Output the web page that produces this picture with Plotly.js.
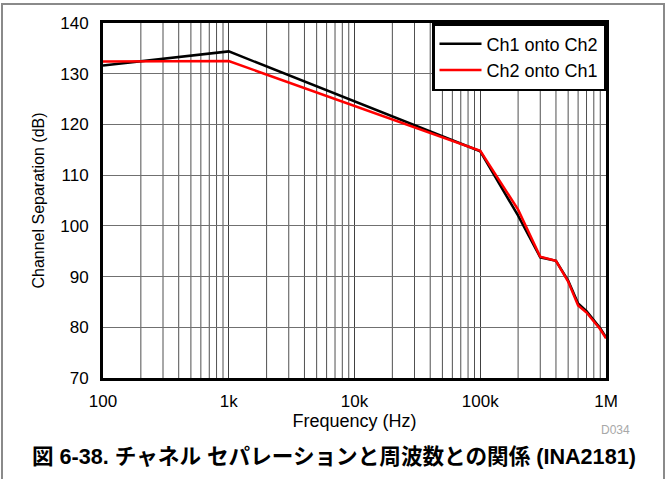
<!DOCTYPE html>
<html>
<head>
<meta charset="utf-8">
<script src="https://cdn.plot.ly/plotly-3.0.1.min.js"></script>
<style>
  html, body { margin: 0; padding: 0; background: #fff; }
  #wrap { position: relative; width: 666px; height: 479px; }
  #chart { position: absolute; left: 0; top: 0; width: 666px; height: 479px; }
  #frame { position: absolute; left: 1px; top: 3px; width: 664px; height: 480px;
           border: 2px solid #8a8a8a; pointer-events: none; box-sizing: border-box; }
</style>
</head>
<body>
<div id="wrap">
  <div id="chart"></div>
  <div id="frame"></div>
</div>
<script>
// Frequencies (Hz)
const freqCh1 = [100, 1000, 100000, 200000, 300000, 400000, 500000, 600000, 700000, 900000, 1000000];
const freqCh2 = [100, 1000, 100000, 200000, 300000, 400000, 500000, 600000, 700000, 900000, 1000000];
// Channel separation (dB)
const sepCh1 = [131.6, 134.4, 114.7, 102.0, 93.8, 93.1, 89.2, 84.7, 83.2, 79.8, 78.0];
const sepCh2 = [132.4, 132.5, 114.8, 103.2, 93.9, 93.1, 89.0, 84.3, 82.9, 79.6, 77.8];
const seriesNames = ["Ch1 onto Ch2", "Ch2 onto Ch1"];
// Tick labels
const xTickVals = [100, 1000, 10000, 100000, 1000000];
const xTickText = ["100", "1k", "10k", "100k", "1M"];
const yTickVals = [70, 80, 90, 100, 110, 120, 130, 140];
// Minor grid frequencies (2..9 per decade)
const minorGrid = [];
[100, 1000, 10000, 100000].forEach(d => { for (let m = 2; m <= 9; m++) minorGrid.push(d * m); });

const FONT = "Liberation Sans, Arial, Helvetica, sans-serif";

const traces = [
  { x: freqCh1, y: sepCh1, name: seriesNames[0], mode: "lines", type: "scatter",
    line: { color: "#000000", width: 2.5 } },
  { x: freqCh2, y: sepCh2, name: seriesNames[1], mode: "lines", type: "scatter",
    line: { color: "#ff0000", width: 2.5 } }
];

const L = 103, R = 606, T = 23, B = 378;
const pw = R - L, ph = B - T;
const px = v => (v - L) / pw;
const py = v => (B - v) / ph;

const shapes = minorGrid.map(f => ({
  type: "line", xref: "x", yref: "paper", x0: f, x1: f, y0: 0, y1: 1,
  line: { color: "#505050", width: 1 }, layer: "below"
}));

const layout = {
  width: 666, height: 479,
  margin: { l: L, r: 666 - R, t: T, b: 479 - B },
  paper_bgcolor: "#ffffff", plot_bgcolor: "#ffffff",
  font: { family: FONT, color: "#000", size: 17 },
  showlegend: true,
  legend: {
    x: 1, xanchor: "right", y: 1, yanchor: "top",
    bgcolor: "#ffffff", bordercolor: "#000000", borderwidth: 2.5,
    font: { family: FONT, size: 18, color: "#000" },
    itemwidth: 42,
    tracegroupgap: 0
  },
  xaxis: {
    type: "log", range: [2, 6],
    tickvals: xTickVals, ticktext: xTickText,
    showgrid: true, gridcolor: "#404040", gridwidth: 1,
    showline: true, linecolor: "#000", linewidth: 3, mirror: true,
    ticks: "", ticklabelstandoff: 6,
    tickfont: { family: FONT, size: 17 },
    zeroline: false,
    title: { text: "Frequency (Hz)", font: { family: FONT, size: 18 }, standoff: 0 }
  },
  yaxis: {
    range: [70, 140], tickvals: yTickVals,
    showgrid: true, gridcolor: "#707070", gridwidth: 1,
    showline: true, linecolor: "#000", linewidth: 3, mirror: true,
    ticks: "", ticklabelstandoff: 8,
    tickfont: { family: FONT, size: 17 },
    zeroline: false,
    title: { text: "Channel Separation (dB)", font: { family: FONT, size: 16 }, standoff: 12 }
  },
  shapes: shapes,
  annotations: [
    { xref: "paper", yref: "paper", x: px(632), y: py(430), xanchor: "right", yanchor: "middle",
      text: "D034", showarrow: false, font: { family: FONT, size: 12, color: "#a8a8a8" } },
    { xref: "paper", yref: "paper", x: px(334), y: py(456), xanchor: "center", yanchor: "middle",
      text: "<b>図 6-38. チャネル セパレーションと周波数との関係 (INA2181)</b>", showarrow: false,
      font: { family: "Liberation Sans, Noto Sans CJK JP, sans-serif", size: 21.6, color: "#000" } }
  ]
};

Plotly.newPlot("chart", traces, layout, { displayModeBar: false, staticPlot: true });
</script>
</body>
</html>
